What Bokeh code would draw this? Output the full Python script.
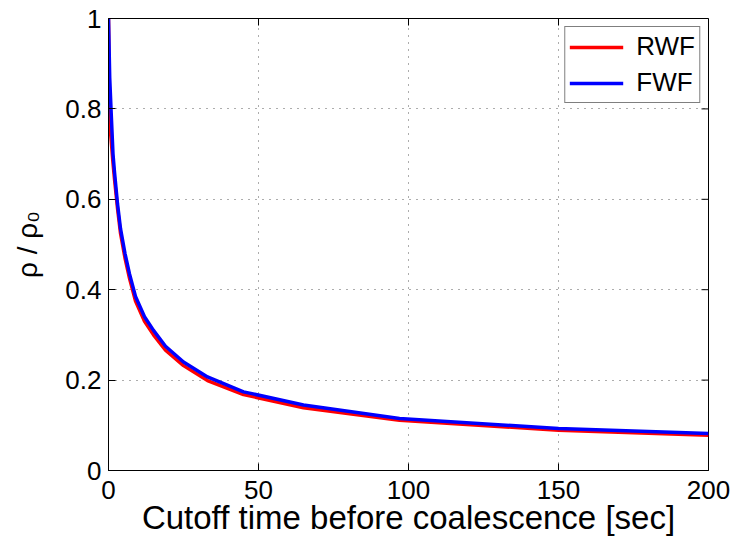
import math
from bokeh.plotting import figure
from bokeh.models import Range1d, FixedTicker, Legend, LegendItem
from bokeh.embed import file_html
from bokeh.resources import INLINE

# Data
t_sec = [0, 0.4, 0.9, 1.5, 2, 3, 4, 5.5, 7, 9, 12, 15, 19, 25, 33, 45, 65, 97, 150, 200]
fwf = [1.0, 0.87, 0.79, 0.70, 0.66, 0.59, 0.535, 0.48, 0.435, 0.385, 0.34, 0.31,
       0.275, 0.24, 0.207, 0.174, 0.145, 0.115, 0.093, 0.082]
rwf = [1.0, 0.77, 0.73, 0.68, 0.645, 0.58, 0.525, 0.47, 0.425, 0.375, 0.33, 0.30,
       0.266, 0.232, 0.199, 0.168, 0.139, 0.111, 0.089, 0.078]
x_ticks = [0, 50, 100, 150, 200]
y_ticks = [0, 0.2, 0.4, 0.6, 0.8, 1]
y_tick_labels = {0: "0", 0.2: "0.2", 0.4: "0.4", 0.6: "0.6", 0.8: "0.8", 1: "1"}

FONT = "Liberation Sans"
X_MIN, X_MAX = 0, 200
Y_MIN, Y_MAX = 0, 1

p = figure(width=731, height=538, output_backend="svg", toolbar_location=None,
           x_range=Range1d(X_MIN, X_MAX), y_range=Range1d(Y_MIN, Y_MAX),
           min_border_left=108, min_border_right=23, min_border_top=18,
           min_border_bottom=67)
p.background_fill_color = "white"
p.border_fill_color = "white"
p.outline_line_color = "black"
p.outline_line_width = 1

# grid
for g in (p.xgrid[0], p.ygrid[0]):
    g.grid_line_color = "#333333"
    g.grid_line_alpha = 0.8
    g.grid_line_dash = "1 6"
    g.grid_line_width = 1
p.xgrid[0].ticker = FixedTicker(ticks=x_ticks)
p.ygrid[0].ticker = FixedTicker(ticks=y_ticks)

r_red = p.line(t_sec, rwf, line_color="#ff0000", line_width=3.5)
r_blue = p.line(t_sec, fwf, line_color="#0000ff", line_width=3.5)

# tick marks on the top and right edges (MATLAB box style)
p.ray(x=x_ticks, y=[Y_MAX] * len(x_ticks), length=7, length_units="screen",
      angle=-math.pi / 2, line_color="black", line_width=1)
p.ray(x=[X_MAX] * len(y_ticks), y=y_ticks, length=7, length_units="screen",
      angle=math.pi, line_color="black", line_width=1)

# axes
for ax in (p.xaxis[0], p.yaxis[0]):
    ax.major_tick_in = 7
    ax.major_tick_out = 0
    ax.minor_tick_in = 0
    ax.minor_tick_out = 0
    ax.axis_line_color = "black"
    ax.major_tick_line_color = "black"
    ax.major_label_text_font = FONT
    ax.major_label_text_font_size = "26px"
    ax.major_label_text_color = "black"
    ax.axis_label_text_font = FONT
    ax.axis_label_text_font_style = "normal"
    ax.axis_label_text_color = "black"

p.xaxis[0].ticker = FixedTicker(ticks=x_ticks)
p.yaxis[0].ticker = FixedTicker(ticks=y_ticks)
p.yaxis[0].major_label_overrides = y_tick_labels
p.xaxis[0].axis_label = "Cutoff time before coalescence [sec]"
p.xaxis[0].axis_label_text_font_size = "33px"
p.xaxis[0].major_label_standoff = 10
p.xaxis[0].axis_label_standoff = -3
p.yaxis[0].axis_label = "ρ / ρ₀"
p.yaxis[0].axis_label_text_font_size = "28px"
p.yaxis[0].major_label_standoff = 7
p.yaxis[0].axis_label_standoff = 19

legend = Legend(items=[LegendItem(label="RWF", renderers=[r_red]),
                       LegendItem(label="FWF", renderers=[r_blue])],
                location="top_right")
legend.label_text_font = FONT
legend.label_text_font_size = "26px"
legend.label_text_color = "black"
legend.glyph_width = 54
legend.glyph_height = 28
legend.label_height = 28
legend.spacing = 5
legend.padding = 4
legend.margin = 8
legend.label_standoff = 13
legend.border_line_color = "black"
legend.border_line_width = 1
legend.background_fill_color = "white"
legend.background_fill_alpha = 1
p.add_layout(legend)

open("out.html", "w").write(file_html(p, INLINE))
